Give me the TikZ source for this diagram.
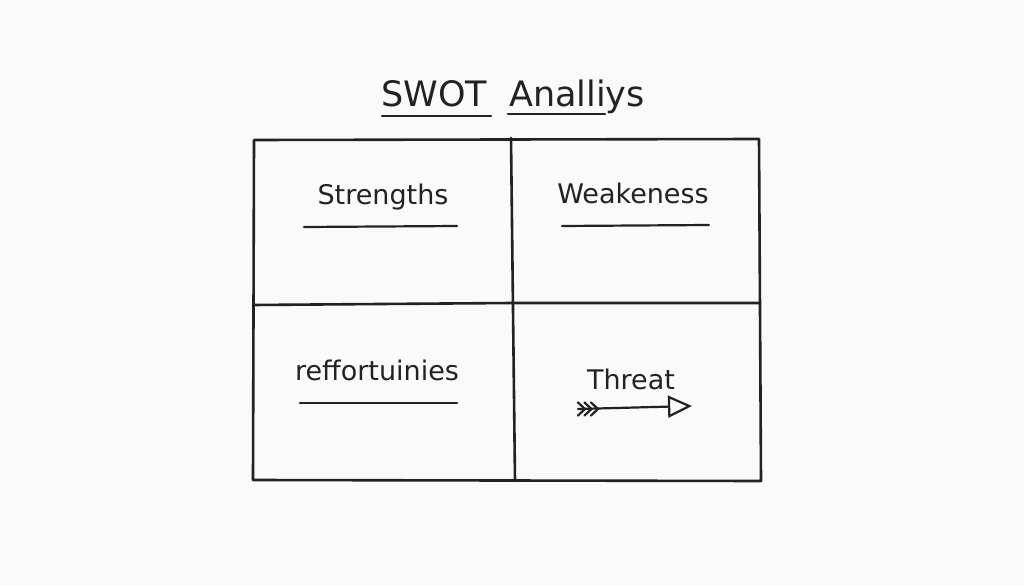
\documentclass[tikz,border=0pt]{standalone}
\usepackage{fontspec}
\setmainfont{DejaVu Sans}
\usetikzlibrary{arrows.meta}
\definecolor{ink}{HTML}{222222}
\definecolor{paper}{HTML}{FAFAFA}
\tikzset{
  pen/.style={draw=ink, line width=2.6pt, line cap=round, line join=round},
  thinpen/.style={draw=ink, line width=2.2pt, line cap=round},
  label/.style={text=ink, font=\fontsize{27}{30}\selectfont, inner sep=0pt, anchor=base},
  titletext/.style={text=ink, font=\fontsize{35}{40}\selectfont, inner sep=0pt, anchor=base west},
}
\begin{document}
\begin{tikzpicture}[x=1pt,y=-1pt]
\fill[paper] (0,0) rectangle (1024,585);
\useasboundingbox (0,0) rectangle (1024,585);

% title
\node[titletext] (swot) at (381,107) {SWOT};
\node[titletext] (anal) at (509,107) {Analliys};
\coordinate (su1) at (382,116); \coordinate (su2) at (491,116);
\coordinate (au1) at (508,114); \coordinate (au2) at (605,114);
\draw[thinpen] (su1) -- (su2);
\draw[thinpen] (au1) -- (au2);

% grid
\coordinate (tl) at (254,140);
\coordinate (tr) at (759,139);
\coordinate (br) at (761,481);
\coordinate (bl) at (253,480);
\draw[pen] (tl) -- (tr) -- (br) -- (bl) -- cycle;
\coordinate (vt) at (511,138);
\coordinate (vb) at (515,481);
\draw[pen] (vt) -- (vb);
\coordinate (hl) at (253,305);
\coordinate (hm) at (512,303);
\coordinate (hr) at (760,303);
\draw[pen] (hl) .. controls (380,304) .. (hm) -- (hr);

% quadrant labels
\node[label] (s) at (383,205) {Strengths};
\node[label] (w) at (633,204) {Weakeness};
\node[label] (o) at (377,380) {reffortuinies};
\node[label] (t) at (631,389) {Threat};

\coordinate (s1) at (304,227); \coordinate (s2) at (457,226);
\coordinate (w1) at (562,226); \coordinate (w2) at (709,225);
\coordinate (o1) at (300,403); \coordinate (o2) at (457,403);
\draw[thinpen] (s1) -- (s2);
\draw[thinpen] (w1) -- (w2);
\draw[thinpen] (o1) -- (o2);

% threat arrow
\coordinate (a1) at (578,409);
\coordinate (a2) at (692,406);
\draw[thinpen, line join=round,
  -{Triangle[open, length=24pt, width=22pt, line width=2.2pt]}] (a1) -- (a2);
\foreach \dx in {0,6.5,13}{
  \draw[thinpen, line join=round] (578+\dx,402.5) -- (585+\dx,409) -- (578+\dx,415.5);
}
\end{tikzpicture}
\end{document}
